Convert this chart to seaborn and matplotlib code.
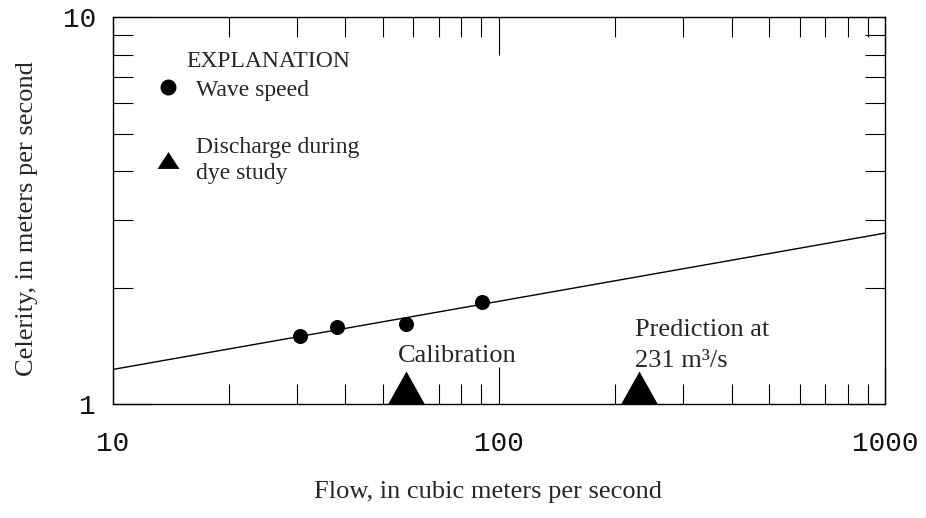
import matplotlib
matplotlib.use("Agg")
import matplotlib.pyplot as plt
from matplotlib.lines import Line2D
from matplotlib.ticker import FixedLocator, NullFormatter, FixedFormatter
import numpy as np
import pandas as pd
import seaborn as sns

# Measured wave speeds
wave_flow = [30.6, 38.0, 57.5, 90.5]          # m3/s
wave_celerity = [1.50, 1.58, 1.61, 1.835]      # m/s

# Fitted celerity-flow relation (straight line in log-log space)
fit_flow = [10, 1000]
fit_celerity = [1.23, 2.77]

# Discharges during the dye studies
dye_flow = [57.5, 231]
dye_base = [1, 1]
dye_names = ["Calibration", "Prediction"]

x_major = [10, 100, 1000]
x_major_labels = ["10", "100", "1000"]
y_major = [1, 10]
y_major_labels = ["1", "10"]

sns.set_style("ticks")
plt.rcParams["font.family"] = ["Liberation Serif", "DejaVu Serif"]

fig = plt.figure(figsize=(9.26, 5.18), dpi=100)
ax = fig.add_axes([0.1215, 0.2195, 0.8346, 0.7471])

waves = pd.DataFrame({"flow": wave_flow, "celerity": wave_celerity})
fit = pd.DataFrame({"flow": fit_flow, "celerity": fit_celerity})
dye = pd.DataFrame({"flow": dye_flow, "celerity": dye_base, "name": dye_names})

sns.lineplot(data=fit, x="flow", y="celerity", color="black", lw=1.0, ax=ax)
sns.scatterplot(data=waves, x="flow", y="celerity", color="black", s=117,
                linewidth=0, ax=ax, zorder=3)

# triangle standing on its base at the data point
tri_up = [(-0.56, 0.0), (0.56, 0.0), (0.0, 1.0), (-0.56, 0.0)]
sns.scatterplot(data=dye, x="flow", y="celerity", color="black", s=2257,
                marker=tri_up, linewidth=0, ax=ax, zorder=3, clip_on=False)

ax.set_xscale("log")
ax.set_yscale("log")
ax.set_xlim(10, 1000)
ax.set_ylim(1, 10)

ax.xaxis.set_major_locator(FixedLocator(x_major))
ax.xaxis.set_major_formatter(FixedFormatter(x_major_labels))
ax.yaxis.set_major_locator(FixedLocator(y_major))
ax.yaxis.set_major_formatter(FixedFormatter(y_major_labels))
x_minor = [m * d for d in (10, 100) for m in range(2, 10)]
y_minor = [m for m in range(2, 10)]
ax.xaxis.set_minor_locator(FixedLocator(x_minor))
ax.yaxis.set_minor_locator(FixedLocator(y_minor))
ax.xaxis.set_minor_formatter(NullFormatter())
ax.yaxis.set_minor_formatter(NullFormatter())

ax.tick_params(which="both", direction="in", top=True, right=True,
               color="black", width=0.8)
ax.tick_params(which="major", length=27)
ax.tick_params(which="minor", length=14.4)
ax.tick_params(axis="x", which="major", pad=19)
ax.tick_params(axis="y", which="major", pad=12)
for lab in ax.get_xticklabels() + ax.get_yticklabels():
    lab.set_fontfamily("Liberation Mono")
    lab.set_fontsize(20)
    lab.set_color("#111111")

for sp in ax.spines.values():
    sp.set_color("black")
    sp.set_linewidth(1.0)

ax.set_xlabel("Flow, in cubic meters per second", fontsize=19)
ax.set_ylabel("Celerity, in meters per second", fontsize=19)
ax.xaxis.set_label_coords(0.486, -0.198)
ax.yaxis.set_label_coords(-0.097, 0.481)

# labels for the two dye studies
ax.annotate("Calibration", xy=(dye_flow[0], 1), xytext=(-8, 42),
            textcoords="offset pixels", ha="left", va="baseline", fontsize=19)
ax.annotate("Prediction at", xy=(dye_flow[1], 1), xytext=(-4.5, 68),
            textcoords="offset pixels", ha="left", va="baseline", fontsize=19)
ax.annotate("231 m³/s", xy=(dye_flow[1], 1), xytext=(-4.5, 37.5),
            textcoords="offset pixels", ha="left", va="baseline", fontsize=19)

# explanation block
ax.text(0.095, 0.885, "EXPLANATION", transform=ax.transAxes, fontsize=17,
        ha="left", va="center")
tri_legend = [(-1.3, -1.0), (1.3, -1.0), (0.0, 1.0), (-1.3, -1.0)]
handles = [
    Line2D([], [], ls="", marker="o", color="black", ms=11.5, mew=0),
    Line2D([], [], ls="", marker=tri_legend, color="black", ms=15.8, mew=0),
]
leg = ax.legend(handles, ["Wave speed", "Discharge during\ndye study"],
                loc="upper left", bbox_to_anchor=(0.056, 0.84), frameon=False,
                fontsize=17, borderpad=0, borderaxespad=0, handlelength=1.0,
                handletextpad=0.7, labelspacing=1.55)
leg.get_texts()[1].set_linespacing(1.3)

fig.savefig("out.png", dpi=100)
